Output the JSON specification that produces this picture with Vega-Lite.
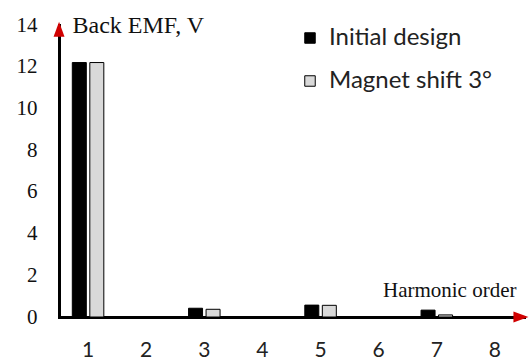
{
  "$schema": "https://vega.github.io/schema/vega-lite/v6.json",
  "width": 465,
  "height": 292,
  "autosize": "none",
  "padding": {"left": 59, "top": 25, "right": 5, "bottom": 45},
  "background": "white",
  "config": {"view": {"stroke": null}},
  "datasets": {
    "harmonics": [
      {"harmonic": 1, "series": "Initial design", "emf": 12.2},
      {"harmonic": 1, "series": "Magnet shift 3°", "emf": 12.2},
      {"harmonic": 3, "series": "Initial design", "emf": 0.42},
      {"harmonic": 3, "series": "Magnet shift 3°", "emf": 0.37},
      {"harmonic": 5, "series": "Initial design", "emf": 0.57},
      {"harmonic": 5, "series": "Magnet shift 3°", "emf": 0.56},
      {"harmonic": 7, "series": "Initial design", "emf": 0.33},
      {"harmonic": 7, "series": "Magnet shift 3°", "emf": 0.1}
    ],
    "yArrow": [{"harmonic": 1, "emf": 13.8}],
    "xArrow": [{"harmonic": 8, "emf": 0}]
  },
  "layer": [
    {
      "data": {"name": "harmonics"},
      "mark": {"type": "bar", "stroke": "black", "strokeWidth": 1},
      "encoding": {
        "x": {
          "field": "harmonic",
          "type": "ordinal",
          "scale": {"domain": [1, 2, 3, 4, 5, 6, 7, 8], "paddingInner": 0, "paddingOuter": 0},
          "axis": {
            "title": "Harmonic order",
            "titleFont": "Liberation Serif",
            "titleFontSize": 21,
            "titleFontWeight": "normal",
            "titleColor": "#111",
            "titleAnchor": null,
            "titleAlign": "right",
            "titleBaseline": "middle",
            "titleX": 457,
            "titleY": -27,
            "labelAngle": 0,
            "labelFont": "Lato",
            "labelFontSize": 21,
            "labelColor": "#222",
            "labelPadding": 22,
            "ticks": false,
            "grid": false,
            "domainColor": "black",
            "domainWidth": 3,
            "domainCap": "square"
          }
        },
        "xOffset": {
          "field": "series",
          "type": "nominal",
          "scale": {"domain": ["Initial design", "Magnet shift 3°"], "paddingInner": 0.2, "paddingOuter": 0.76}
        },
        "y": {
          "field": "emf",
          "type": "quantitative",
          "scale": {"domain": [0, 14], "nice": false},
          "axis": {
            "values": [0, 2, 4, 6, 8, 10, 12, 14],
            "title": "Back EMF, V",
            "titleAngle": 0,
            "titleFont": "Liberation Serif",
            "titleFontSize": 24,
            "titleFontWeight": "normal",
            "titleColor": "#111",
            "titleAnchor": null,
            "titleAlign": "left",
            "titleBaseline": "alphabetic",
            "titleX": 13,
            "titleY": 7,
            "labelFont": "Liberation Serif",
            "labelFontSize": 21,
            "labelColor": "#111",
            "labelPadding": 22,
            "ticks": false,
            "grid": false,
            "domainColor": "black",
            "domainWidth": 3,
            "domainCap": "square"
          }
        },
        "color": {
          "field": "series",
          "type": "nominal",
          "scale": {"domain": ["Initial design", "Magnet shift 3°"], "range": ["#000000", "#d9d9d9"]},
          "legend": {
            "title": null,
            "orient": "none",
            "legendX": 239,
            "legendY": 1,
            "symbolType": "square",
            "symbolSize": 110,
            "symbolStrokeColor": "black",
            "symbolStrokeWidth": 1,
            "symbolOpacity": 1,
            "labelFont": "Lato",
            "labelFontSize": 24,
            "labelColor": "#222",
            "labelOffset": 7,
            "labelLimit": 400,
            "rowPadding": 19
          }
        }
      }
    },
    {
      "data": {"name": "yArrow"},
      "mark": {"type": "point", "shape": "M0,-1L0.73,1L-0.73,1Z", "filled": true, "color": "#d00000", "opacity": 1, "size": 225, "xOffset": -29},
      "encoding": {
        "x": {"field": "harmonic", "type": "ordinal"},
        "y": {"field": "emf", "type": "quantitative"}
      }
    },
    {
      "data": {"name": "xArrow"},
      "mark": {"type": "point", "shape": "M1,0L-1,0.73L-1,-0.73Z", "filled": true, "color": "#d00000", "opacity": 1, "size": 225, "xOffset": 26},
      "encoding": {
        "x": {"field": "harmonic", "type": "ordinal"},
        "y": {"field": "emf", "type": "quantitative"}
      }
    }
  ]
}
